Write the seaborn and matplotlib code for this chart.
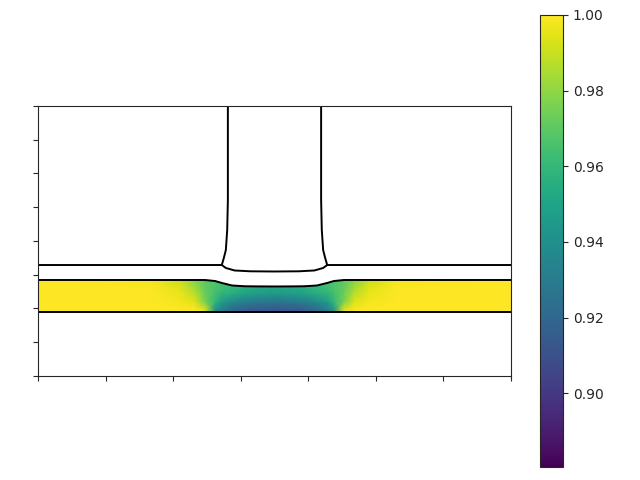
import numpy as np
import matplotlib
matplotlib.use("Agg")
import matplotlib.pyplot as plt
import seaborn as sns

sns.set_style("ticks")

# ---- slab field (lower layer) ----
# column x positions (left half incl. centre), mirrored to the right
col_x_left = [0.0, 1.7, 2.1, 2.32, 2.47, 2.62, 2.72, 2.87, 3.06, 3.25, 3.5]
col_x = col_x_left + [7.0 - v for v in col_x_left[-2::-1]]

# slab top height at each column (left half), bottom is flat
top_left = [1.422, 1.422, 1.422, 1.422, 1.422, 1.407, 1.378, 1.341, 1.329, 1.327, 1.326]
slab_top = top_left + top_left[-2::-1]
slab_bottom = 0.941

# fraction of slab thickness for each row (bottom -> top)
row_frac = [0.0, 0.06, 0.35, 0.7, 1.0]

# field values, left half per row (bottom -> top)
r0 = [1.0, 1.0, 1.0, 1.0, 1.0, 0.93, 0.905, 0.895, 0.89, 0.888, 0.887]
r1 = [1.0, 1.0, 1.0, 1.0, 0.995, 0.94, 0.93, 0.92, 0.915, 0.913, 0.912]
r2 = [1.0, 1.0, 0.998, 0.993, 0.975, 0.96, 0.945, 0.935, 0.928, 0.925, 0.923]
r3 = [1.0, 1.0, 0.995, 0.985, 0.972, 0.965, 0.96, 0.955, 0.948, 0.945, 0.943]
r4 = [1.0, 0.998, 0.99, 0.978, 0.97, 0.967, 0.965, 0.962, 0.957, 0.955, 0.954]
rows = [r0, r1, r2, r3, r4]

# ---- outlines ----
# upper layer top surface + pillar wall (left), mirrored for right
wall_x = [0.0, 2.72, 2.75, 2.78, 2.80, 2.81, 2.81]
wall_y = [1.644, 1.644, 1.748, 1.867, 2.163, 2.607, 4.0]
# pillar bottom (left half incl. centre)
pb_x = [2.72, 2.78, 2.91, 3.14, 3.5]
pb_y = [1.644, 1.600, 1.563, 1.551, 1.548]

vmin, vmax = 0.8805, 1.0

fig = plt.figure(figsize=(6.4, 4.8), dpi=100)
ax = fig.add_axes([0.0594, 0.2167, 0.739, 0.5625])
cax = fig.add_axes([0.844, 0.027, 0.036, 0.942])

X = np.array([col_x for _ in row_frac])
Y = np.array([[slab_bottom + f * (t - slab_bottom) for t in slab_top] for f in row_frac])
Z = np.array([r + r[-2::-1] for r in rows])
mesh = ax.pcolormesh(X, Y, Z, shading="gouraud", cmap="viridis", vmin=vmin, vmax=vmax)

kw = dict(color="black", linewidth=1.4, sort=False, estimator=None, ax=ax)
sns.lineplot(x=wall_x, y=wall_y, **kw)
sns.lineplot(x=[7.0 - v for v in wall_x], y=wall_y, **kw)
sns.lineplot(x=pb_x + [7.0 - v for v in pb_x[-2::-1]], y=pb_y + pb_y[-2::-1], **kw)
sns.lineplot(x=col_x, y=slab_top, **kw)
sns.lineplot(x=[0.0, 7.0], y=[slab_bottom, slab_bottom], **kw)

ax.set_xlim(0, 7)
ax.set_ylim(0, 4)
ax.set_xticks(range(8))
ax.set_yticks(np.arange(0, 4.01, 0.5))
ax.set_xticklabels([])
ax.set_yticklabels([])
ax.set_xlabel("")
ax.set_ylabel("")

cb = fig.colorbar(mesh, cax=cax, ticks=[0.90, 0.92, 0.94, 0.96, 0.98, 1.00], format="%.2f")

fig.savefig("out.png", dpi=100)
